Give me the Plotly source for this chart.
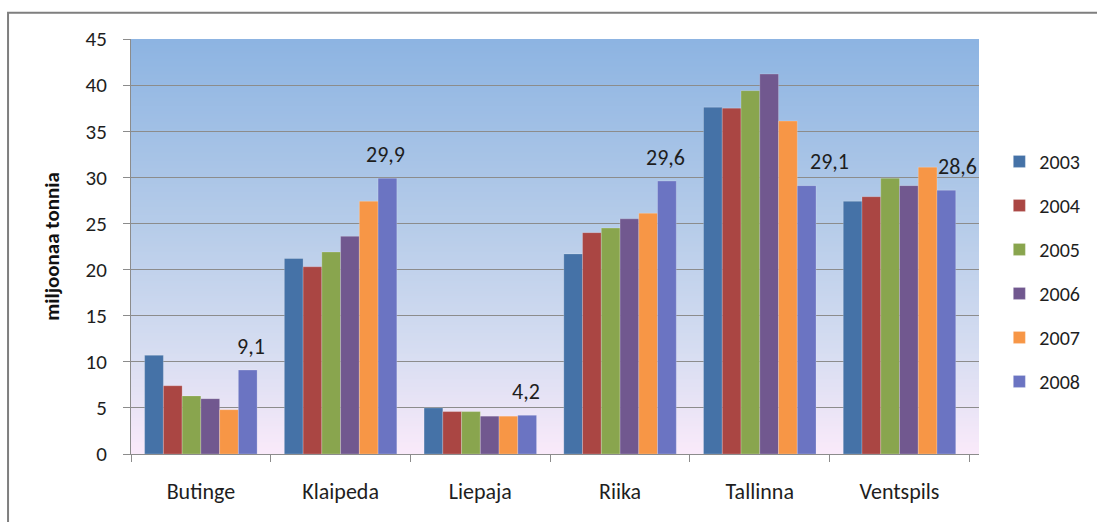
"""
Baltic ports cargo volume 2003-2008, grouped bars (Plotly).
"""

import base64
import struct
import zlib

import plotly.graph_objects as go

# ── Data ────────────────────────────────────────────────────────────────────

PORTS = ["Butinge", "Klaipeda", "Liepaja", "Riika", "Tallinna", "Ventspils"]
YEARS = ["2003", "2004", "2005", "2006", "2007", "2008"]

V2003 = [10.7, 21.2, 5.0, 21.7, 37.6, 27.4]
V2004 = [7.4, 20.3, 4.6, 24.0, 37.5, 27.9]
V2005 = [6.3, 21.9, 4.6, 24.5, 39.4, 29.9]
V2006 = [6.0, 23.6, 4.1, 25.5, 41.2, 29.1]
V2007 = [4.8, 27.4, 4.1, 26.1, 36.1, 31.1]
V2008 = [9.1, 29.9, 4.2, 29.6, 29.1, 28.6]

Y_TICKS = [0, 5, 10, 15, 20, 25, 30, 35, 40, 45]
Y_TITLE = "miljoonaa tonnia"

# ── Style ───────────────────────────────────────────────────────────────────

COLORS = ["#4572a7", "#aa4643", "#89a54e", "#71588f", "#f79646", "#6b74c2"]
FONT = "Carlito, Lato, sans-serif"
TEXT = "#1e1e1e"
GRID = "#8c8c8c"
# small hand nudges (px) of the 2008 value labels, as in the original
LABEL_NUDGE = [3, -2, -1, -2, 23, 11]


def _gradient_png(stops, height=256):
    """Build a 1 x height vertical gradient PNG, returned as data URI."""
    rows = b""
    for i in range(height):
        t = i / (height - 1)
        for (t0, c0), (t1, c1) in zip(stops, stops[1:]):
            if t0 <= t <= t1:
                f = (t - t0) / (t1 - t0) if t1 > t0 else 0
                rgb = [round(a + (b - a) * f) for a, b in zip(c0, c1)]
                break
        rows += b"\x00" + bytes(rgb)

    def chunk(tag, data):
        c = tag + data
        return struct.pack(">I", len(data)) + c + struct.pack(">I", zlib.crc32(c) & 0xFFFFFFFF)

    png = b"\x89PNG\r\n\x1a\n"
    png += chunk(b"IHDR", struct.pack(">IIBBBBB", 1, height, 8, 2, 0, 0, 0))
    png += chunk(b"IDAT", zlib.compress(rows))
    png += chunk(b"IEND", b"")
    return "data:image/png;base64," + base64.b64encode(png).decode()


BG = _gradient_png([
    (0.0, (141, 180, 226)),
    (0.45, (182, 204, 233)),
    (0.75, (214, 221, 241)),
    (1.0, (250, 234, 250)),
])

# ── Figure ──────────────────────────────────────────────────────────────────

fig = go.Figure()
for year, vals, col in zip(YEARS, [V2003, V2004, V2005, V2006, V2007, V2008], COLORS):
    fig.add_trace(go.Bar(
        x=PORTS, y=vals, name=year, legendgroup=year,
        marker=dict(color=col, line=dict(width=0.6, color="rgba(255,255,255,0.35)")),
    ))

for port, val, dx in zip(PORTS, V2008, LABEL_NUDGE):
    fig.add_annotation(
        x=port, y=val, text=f"{val:.1f}".replace(".", ","),
        showarrow=False, xshift=47 + dx, yshift=24, yanchor="middle",
        font=dict(family=FONT, size=22, color=TEXT),
    )

fig.update_layout(
    width=1097, height=522,
    margin=dict(l=131, r=116, t=39, b=68),
    barmode="group", bargap=0.195, bargroupgap=0,
    paper_bgcolor="white", plot_bgcolor="rgba(0,0,0,0)",
    font=dict(family=FONT, size=19, color=TEXT),
    images=[dict(
        source=BG, xref="paper", yref="paper", x=0, y=1, sizex=1, sizey=1,
        sizing="stretch", xanchor="left", yanchor="top", layer="below",
    )],
    legend=dict(
        x=1.024, xanchor="left", y=0.44, yanchor="middle",
        tracegroupgap=15, itemwidth=30, bgcolor="rgba(0,0,0,0)",
        font=dict(family=FONT, size=20, color=TEXT),
    ),
    showlegend=True,
    # outer chart frame (only top and left edges fall inside the page)
    shapes=[dict(
        type="rect", xref="paper", yref="paper",
        x0=-0.145, x1=1.3, y0=-0.25, y1=1.063,
        line=dict(color="#7f7f7f", width=2), layer="below",
    )],
)

fig.update_xaxes(
    type="category", tickson="boundaries", ticks="outside", ticklen=7,
    tickcolor=GRID, showline=True, linecolor=GRID, linewidth=1,
    ticklabelstandoff=18, showgrid=False, automargin=False,
    tickfont=dict(family=FONT, size=22, color=TEXT),
)
fig.update_yaxes(
    range=[0, 45], tickvals=Y_TICKS, ticks="outside", ticklen=7,
    tickcolor=GRID, showline=True, linecolor=GRID, linewidth=1,
    showgrid=True, gridcolor=GRID, gridwidth=1, zeroline=False,
    ticklabelstandoff=12, automargin=False,
    tickfont=dict(family=FONT, size=21, color=TEXT),
    title=dict(text=f"<b>{Y_TITLE}</b>", standoff=20,
               font=dict(family=FONT, size=21, color="#111")),
)

fig.write_html(
    "out.html",
    config={"displayModeBar": False},
    post_script="document.body.style.margin = '0';",
)
